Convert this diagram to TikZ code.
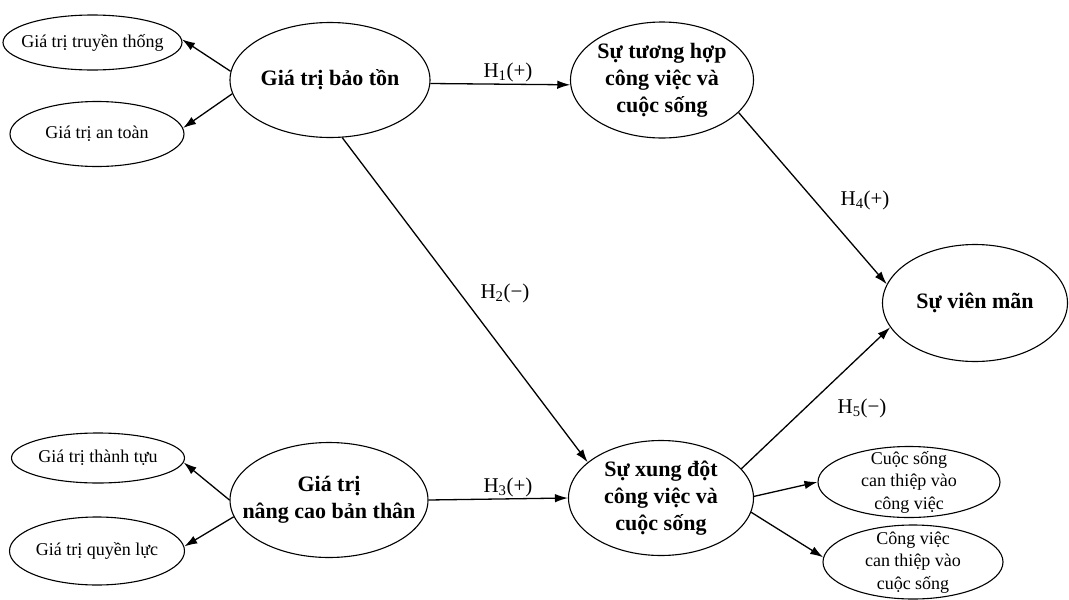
\documentclass[tikz,border=0pt]{standalone}
\usepackage{fontspec}
\setmainfont{Liberation Serif}
\usetikzlibrary{shapes.geometric,arrows.meta}
\newsavebox\tbx
\newcommand{\zt}[1]{\sbox\tbx{\begin{tabular}{@{}c@{}}#1\end{tabular}}\makebox[0pt]{\raisebox{\dimexpr(\dp\tbx-\ht\tbx)/2\relax}[0pt][0pt]{\usebox\tbx}}}
\tikzset{
  ell/.style={ellipse,draw,line width=1.1pt,inner sep=0pt},
  big/.style={ell,font=\fontsize{22}{27}\selectfont\bfseries},
  small/.style={ell,font=\fontsize{18}{22.5}\selectfont},
  con/.style={line width=1.3pt,-{Latex[length=13pt,width=8.5pt]}},
  lab/.style={font=\fontsize{21}{24}\selectfont,inner sep=0pt}
}
\begin{document}
\begin{tikzpicture}[x=1pt,y=-1pt]
\useasboundingbox (0,0) rectangle (1069,600);
% nodes
\node[small,minimum width=179pt,minimum height=55pt] (tt) at (92.5,42.5) {\zt{Giá trị truyền thống}};
\node[small,minimum width=174pt,minimum height=65pt] (at) at (97,134) {\zt{Giá trị an toàn}};
\node[big,minimum width=200pt,minimum height=115pt] (bt) at (330,80) {\zt{Giá trị bảo tồn}};
\node[big,minimum width=183pt,minimum height=116pt] (th) at (662,80) {\zt{Sự tương hợp\\công việc và\\cuộc sống}};
\node[big,minimum width=185pt,minimum height=117pt] (vm) at (975,303) {\zt{Sự viên mãn}};
\node[small,minimum width=173pt,minimum height=50pt] (ttu) at (98,458) {\zt{Giá trị thành tựu}};
\node[small,minimum width=175pt,minimum height=68pt] (ql) at (97,551) {\zt{Giá trị quyền lực}};
\node[big,minimum width=198pt,minimum height=115pt] (nc) at (329,500) {\zt{Giá trị\\nâng cao bản thân}};
\node[big,minimum width=185pt,minimum height=115pt] (xd) at (661,498) {\zt{Sự xung đột\\công việc và\\cuộc sống}};
\node[small,minimum width=182pt,minimum height=71pt] (cs) at (909,482) {\zt{Cuộc sống\\can thiệp vào\\công việc}};
\node[small,minimum width=180pt,minimum height=74pt] (cv) at (913,562) {\zt{Công việc\\can thiệp vào\\cuộc sống}};
% connectors
\draw[con] (bt.175.5) -- (tt.2.9);
\draw[con] (bt.188.4) -- (at.4.7);
\draw[con] (bt.-2.9) -- (th.183.1);
\draw[con] (bt.-78.3) -- (xd.154.4);
\draw[con] (th.-23.5) -- (vm.168.7);
\draw[con] (xd.20.1) -- (vm.196.4);
\draw[con] (nc.180) -- (ttu.-3.4);
\draw[con] (nc.190) -- (ql.3.9);
\draw[con] (nc.0) -- (xd.180);
\draw[con] (xd.1.9) -- (cs.180);
\draw[con] (xd.-9.4) -- (cv.177.5);
% labels
\node[lab] (l1) at (508,72) {H\textsubscript{1}(+)};
\node[lab] (l2) at (505,293) {H\textsubscript{2}(−)};
\node[lab] (l3) at (508,487) {H\textsubscript{3}(+)};
\node[lab] (l4) at (865,200) {H\textsubscript{4}(+)};
\node[lab] (l5) at (862,408) {H\textsubscript{5}(−)};
\end{tikzpicture}
\end{document}
